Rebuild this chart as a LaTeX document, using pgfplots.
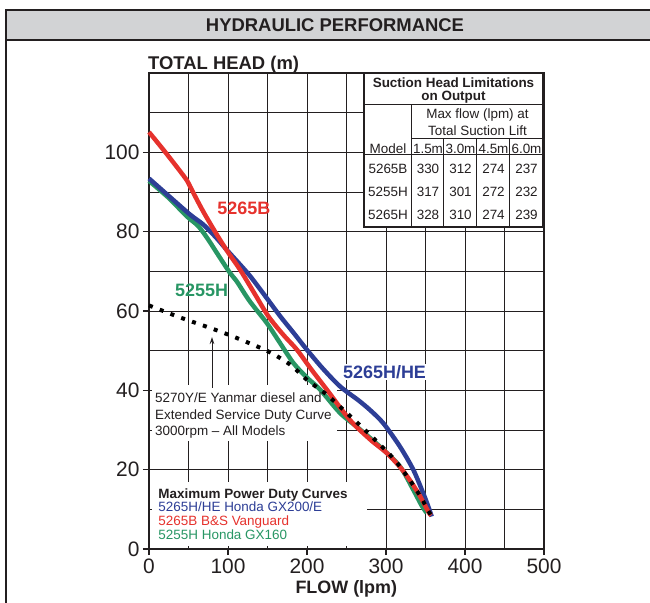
\documentclass[border=0pt]{standalone}
\usepackage{pgfplots}
\pgfplotsset{compat=1.18}
\usepackage{fontspec}
\setmainfont{Liberation Sans}
\usetikzlibrary{arrows.meta}

\definecolor{cred}{RGB}{230,50,45}
\definecolor{cblue}{RGB}{45,62,150}
\definecolor{cgreen}{RGB}{40,150,100}
\definecolor{ink}{RGB}{35,31,32}
\definecolor{barfill}{RGB}{210,211,213}

\newcommand{\fs}[1]{\fontsize{#1}{#1}\selectfont}

\begin{document}
\begin{tikzpicture}
\begin{axis}[
  at={(0,0)}, anchor=south west,
  scale only axis, width=395bp, height=476bp,
  xmin=0, xmax=500, ymin=0, ymax=120,
  xtick={0,100,...,500}, ytick={0,20,...,100},
  minor xtick={50,150,...,450}, minor ytick={10,30,...,110},
  grid=both,
  major grid style={ink, line width=0.9bp},
  minor grid style={ink, line width=0.9bp},
  axis line style={ink, line width=1.8bp},
  tick align=outside, tick pos=left,
  major tick length=6bp, minor tick length=0pt,
  tick style={ink, line width=1.2bp},
  ticklabel style={font=\fs{21}, text=ink},
  /pgf/number format/assume math mode=true,
  clip=false,
]
% white boxes under the curves (annotation and legend)
\fill[white] (axis cs:3.8,27.2) rectangle (axis cs:238,41.3);
\fill[white] (axis cs:3.8,0.8) rectangle (axis cs:276,17.0);

% 5255H Honda GX160
\addplot[cgreen, line width=4.5bp, smooth, line join=round] coordinates {
 (0,92.8) (25,88.5) (47.7,83.9) (62.4,81.4) (75,78) (85.7,74.7) (102.5,69.6)
 (111,67.5) (127,62.6) (149,57) (165,52.2) (182.7,46.9) (200,43.2) (216.5,40.2)
 (241.8,34.3) (265,30.5) (292.4,25.8) (317.7,20.8) (334.6,14.9) (345,11) (351.5,9.1)
};
% 5265H/HE Honda GX200/E
\addplot[cblue, line width=4.5bp, smooth, line join=round] coordinates {
 (0,93.4) (25,89) (52,84.3) (68.7,81.8) (85,78.5) (98,75.5) (113,72.2) (128,68.8)
 (147,63.8) (166,58.7) (183,54.5) (199.6,50.3) (220,45.5) (241.8,41) (265,37.5)
 (280,35) (296.6,31.7) (317.7,25.8) (334.5,20) (347,14.1) (353,11) (357.8,8.2)
};
% 5265B B&S Vanguard
\addplot[cred, line width=4.5bp, smooth, line join=round] coordinates {
 (0,105.1) (20,100.2) (45.6,93.6) (52,91.4) (60,88.3) (70,84.6) (85.7,79.3)
 (100,74.8) (115,70.5) (133,64.6) (151,58.7) (170,54) (187,50.3) (205,45.4)
 (225,40.2) (254,32.6) (280,27.6) (301,24.2) (318,20.6) (330,17.4) (342,13.7)
 (353.6,9.4) (357,8.5)
};
% 5270Y/E extended service duty curve
\addplot[black, line width=4bp, dash pattern=on 4bp off 7.5bp, smooth] coordinates {
 (0,61.4) (39,58.4) (83.5,55.3) (111,53.2) (151,49.8) (178.5,46.5) (199.6,42.7)
 (225,38.9) (246,35.1) (277.6,29.2) (309,22.9) (330,17.4) (345,12.8) (351.5,10.3)
 (358,8.2)
};
\end{axis}

% decorations in pixel coordinates (origin top-left of the picture)
\begin{scope}[shift={(-149bp,549bp)}, x=1bp, y=-1bp]
  % frame and title bar
  \fill[barfill] (6,10) rectangle (650,40);
  \draw[ink, line width=1.5bp] (650,10) -- (6,10) -- (6,603);
  \draw[ink, line width=1.5bp] (6,40) -- (650,40);
  \node[font=\fs{18.5}\bfseries, text=ink, anchor=base] at (335,31.7) {HYDRAULIC PERFORMANCE};

  % axis titles
  \node[font=\fs{18.5}\bfseries, text=ink, anchor=base west, inner sep=0pt] at (148,69.3) {TOTAL HEAD (m)};
  \node[font=\fs{18}\bfseries, text=ink, anchor=base, inner sep=0pt] at (346.3,593.3) {FLOW (lpm)};

  % suction head table
  \fill[white] (364,73) rectangle (543,227);
  \draw[ink, line width=1bp] (364,105) -- (543,105) (412,139) -- (543,139)
    (364,155) -- (543,155) (412,105) -- (412,227) (444,139) -- (444,227)
    (477,139) -- (477,227) (510,139) -- (510,227);
  \draw[ink, line width=1.6bp] (364,73) rectangle (543,227);
  \begin{scope}[every node/.style={font=\fs{13.5}, text=ink, anchor=base, inner sep=0pt}]
    \node[font=\fs{13.5}\bfseries] at (453.5,87.5) {Suction Head Limitations};
    \node[font=\fs{13.5}\bfseries] at (453.5,100.5) {on Output};
    \node at (477.5,119) {Max flow (lpm) at};
    \node at (477.5,135.5) {Total Suction Lift};
    \node at (388,153.5) {Model};
    \node at (428,153.5) {1.5m};
    \node at (460.5,153.5) {3.0m};
    \node at (493.5,153.5) {4.5m};
    \node at (526.5,153.5) {6.0m};
    \node at (388,173.5) {5265B};
    \node at (428,173.5) {330};
    \node at (460.5,173.5) {312};
    \node at (493.5,173.5) {274};
    \node at (526.5,173.5) {237};
    \node at (388,197) {5255H};
    \node at (428,197) {317};
    \node at (460.5,197) {301};
    \node at (493.5,197) {272};
    \node at (526.5,197) {232};
    \node at (388,220) {5265H};
    \node at (428,220) {328};
    \node at (460.5,220) {310};
    \node at (493.5,220) {274};
    \node at (526.5,220) {239};
  \end{scope}

  % curve labels
  \node[font=\fs{18}\bfseries, text=cred, anchor=base west, inner sep=0pt] at (217.3,215) {5265B};
  \node[font=\fs{18}\bfseries, text=cgreen, anchor=base west, inner sep=0pt] at (175,296.7) {5255H};
  \node[font=\fs{18}\bfseries, text=cblue, anchor=base west, fill=white, inner sep=1.5bp] at (341.5,378.5) {5265H/HE};

  % annotation
  \draw[ink, line width=0.9bp, -{Stealth[length=7bp, width=4.5bp]}] (212,388) -- (212,337);
  \begin{scope}[every node/.style={font=\fs{13.5}, text=ink, anchor=base west, inner sep=0pt}]
    \node at (155,403) {5270Y/E Yanmar diesel and};
    \node at (155,419.5) {Extended Service Duty Curve};
    \node at (155,435.5) {3000rpm -- All Models};
  \end{scope}

  % legend
  \begin{scope}[every node/.style={font=\fs{13.5}, anchor=base west, inner sep=0pt}]
    \node[font=\fs{13.5}\bfseries, text=ink] at (158.3,498.5) {Maximum Power Duty Curves};
    \node[text=cblue] at (158.3,512) {5265H/HE Honda GX200/E};
    \node[text=cred] at (158.3,526) {5265B B\&S Vanguard};
    \node[text=cgreen] at (158.3,540) {5255H Honda GX160};
  \end{scope}
\end{scope}

\pgfresetboundingbox
\path[use as bounding box] (-149bp,549bp) rectangle (501bp,-54bp);
\end{tikzpicture}
\end{document}
